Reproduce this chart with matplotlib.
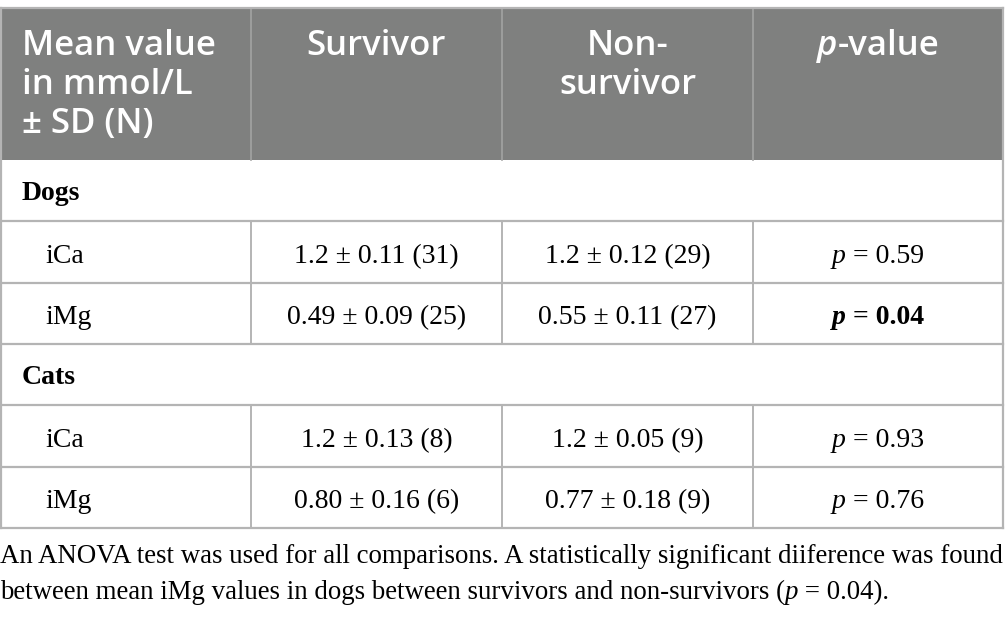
import matplotlib.pyplot as plt
from matplotlib.font_manager import FontProperties

# table content
col_headers = [["Mean value", "in mmol/L", "± SD (N)"],
               ["Survivor"],
               ["Non-", "survivor"],
               ["p-value"]]
groups = ["Dogs", "Cats"]
analytes = ["iCa", "iMg"]
survivor = [["1.2 ± 0.11 (31)", "0.49 ± 0.09 (25)"],
            ["1.2 ± 0.13 (8)", "0.80 ± 0.16 (6)"]]
non_survivor = [["1.2 ± 0.12 (29)", "0.55 ± 0.11 (27)"],
                ["1.2 ± 0.05 (9)", "0.77 ± 0.18 (9)"]]
p_values = [["0.59", "0.04"],
            ["0.93", "0.76"]]
significant = [[False, True],
               [False, False]]
caption = ["An ANOVA test was used for all comparisons. A statistically significant diiference was found",
           "between mean iMg values in dogs between survivors and non-survivors ({p} = 0.04)."]

W, H = 1005, 622
fig = plt.figure(figsize=(W / 100, H / 100), dpi=100)
ax = fig.add_axes([0, 0, 1, 1])
ax.set_xlim(0, W)
ax.set_ylim(H, 0)
ax.axis("off")
renderer = fig.canvas.get_renderer()

head_font = "Open Sans"
body_font = "Liberation Serif"
head_size = 25
body_size = 20
cap_size = 19.4
header_bg = "#7f807f"
line_col = "#b4b4b4"

col_x = [1, 251, 502, 753, 1003]
top, head_bottom = 8, 160
row_h = 61.3


def fp(family, size, style="normal", weight="normal"):
    return FontProperties(family=family, size=size, style=style, weight=weight)


def runs(x, y, parts, ha="center", color="black"):
    # parts: list of (text, FontProperties); drawn on one baseline
    widths = []
    for s, prop in parts:
        t = ax.text(0, 0, s, fontproperties=prop)
        widths.append(t.get_window_extent(renderer).width)
        t.remove()
    total = sum(widths)
    x0 = x - total / 2 if ha == "center" else x
    for (s, prop), w in zip(parts, widths):
        ax.text(x0, y, s, fontproperties=prop, color=color, ha="left", va="baseline")
        x0 += w


# header block
ax.add_patch(plt.Rectangle((col_x[0], top), col_x[-1] - col_x[0], head_bottom - top,
                           facecolor=header_bg, edgecolor="none"))
for xv in col_x[1:-1]:
    ax.plot([xv, xv], [top, head_bottom], color="#a3a3a3", lw=1.2)

hp = fp(head_font, head_size, weight="semibold")
hpi = fp(head_font, head_size, style="italic", weight="semibold")
head_base = [55, 94, 133]
for i, lines in enumerate(col_headers):
    for j, line in enumerate(lines):
        if i == 0:
            runs(22, head_base[j], [(line, hp)], ha="left", color="white")
        elif line == "p-value":
            cx = (col_x[i] + col_x[i + 1]) / 2
            runs(cx, head_base[j], [("p", hpi), ("-value", hp)], color="white")
        else:
            cx = (col_x[i] + col_x[i + 1]) / 2
            runs(cx, head_base[j], [(line, hp)], color="white")

# body rows
bp = fp(body_font, body_size)
bpi = fp(body_font, body_size, style="italic")
bpb = fp(body_font, body_size, weight="bold")
bpbi = fp(body_font, body_size, style="italic", weight="bold")

y = head_bottom
hlines = []
off = 11
for g, group in enumerate(groups):
    runs(22, y + row_h / 2 + 9, [(group, bpb)], ha="left")
    y += row_h
    hlines.append(y)
    for a, name in enumerate(analytes):
        yb = y + row_h / 2 + off
        runs(45, yb, [(name, bp)], ha="left")
        runs((col_x[1] + col_x[2]) / 2, yb, [(survivor[g][a], bp)])
        runs((col_x[2] + col_x[3]) / 2, yb, [(non_survivor[g][a], bp)])
        if significant[g][a]:
            parts = [("p", bpbi), (" = " + p_values[g][a], bpb)]
        else:
            parts = [("p", bpi), (" = " + p_values[g][a], bp)]
        runs((col_x[3] + col_x[4]) / 2, yb, parts)
        for xv in col_x[1:-1]:
            ax.plot([xv, xv], [y, y + row_h], color=line_col, lw=1.4)
        y += row_h
        hlines.append(y)

for yv in hlines:
    ax.plot([col_x[0], col_x[-1]], [yv, yv], color=line_col, lw=1.6)
ax.plot([col_x[0], col_x[-1]], [top, top], color=line_col, lw=1.6)
ax.plot([col_x[0], col_x[0]], [top, y], color=line_col, lw=1.6)
ax.plot([col_x[-1], col_x[-1]], [top, y], color=line_col, lw=1.6)

# footnote
cp = fp(body_font, cap_size)
cpi = fp(body_font, cap_size, style="italic")
runs(0, 563, [(caption[0], cp)], ha="left")
pre, post = caption[1].split("{p}")
runs(0, 599, [(pre, cp), ("p", cpi), (post, cp)], ha="left")

fig.savefig("out.png", dpi=100)
